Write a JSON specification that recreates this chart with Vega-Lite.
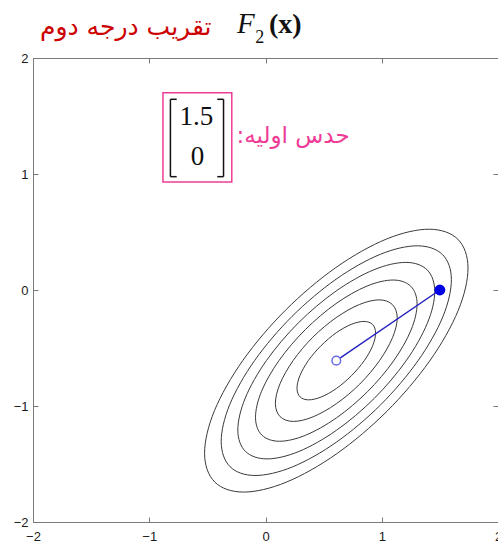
{
  "$schema": "https://vega.github.io/schema/vega-lite/v6.json",
  "width": 465,
  "height": 464,
  "autosize": {"type": "none"},
  "padding": {"left": 33, "top": 58, "right": 0, "bottom": 22},
  "background": "white",
  "config": {
    "view": {"stroke": null},
    "axis": {
      "grid": false,
      "title": null,
      "domainColor": "#7a7a7a",
      "tickColor": "#7a7a7a",
      "tickSize": -5,
      "labelFont": "Liberation Sans",
      "labelFontSize": 13,
      "labelColor": "#1a1a1a",
      "labelFlush": false,
      "labelOverlap": false
    }
  },
  "resolve": {"axis": {"x": "independent", "y": "independent"}},
  "datasets": {
    "contours": [
      {"lv": 1, "i": 1, "x": 0.921, "y": -0.297}, {"lv": 1, "i": 2, "x": 0.947, "y": -0.370},
      {"lv": 1, "i": 3, "x": 0.922, "y": -0.480}, {"lv": 1, "i": 4, "x": 0.849, "y": -0.610},
      {"lv": 1, "i": 5, "x": 0.739, "y": -0.739}, {"lv": 1, "i": 6, "x": 0.610, "y": -0.849},
      {"lv": 1, "i": 7, "x": 0.480, "y": -0.922}, {"lv": 1, "i": 8, "x": 0.370, "y": -0.947},
      {"lv": 1, "i": 9, "x": 0.297, "y": -0.921}, {"lv": 1, "i": 10, "x": 0.271, "y": -0.848},
      {"lv": 1, "i": 11, "x": 0.296, "y": -0.738}, {"lv": 1, "i": 12, "x": 0.369, "y": -0.608},
      {"lv": 1, "i": 13, "x": 0.479, "y": -0.479}, {"lv": 1, "i": 14, "x": 0.608, "y": -0.369},
      {"lv": 1, "i": 15, "x": 0.738, "y": -0.296}, {"lv": 1, "i": 16, "x": 0.848, "y": -0.271},

      {"lv": 2, "i": 1, "x": 1.092, "y": -0.126}, {"lv": 2, "i": 2, "x": 1.133, "y": -0.240},
      {"lv": 2, "i": 3, "x": 1.093, "y": -0.410}, {"lv": 2, "i": 4, "x": 0.980, "y": -0.610},
      {"lv": 2, "i": 5, "x": 0.811, "y": -0.811}, {"lv": 2, "i": 6, "x": 0.610, "y": -0.980},
      {"lv": 2, "i": 7, "x": 0.410, "y": -1.093}, {"lv": 2, "i": 8, "x": 0.240, "y": -1.133},
      {"lv": 2, "i": 9, "x": 0.126, "y": -1.092}, {"lv": 2, "i": 10, "x": 0.085, "y": -0.978},
      {"lv": 2, "i": 11, "x": 0.125, "y": -0.808}, {"lv": 2, "i": 12, "x": 0.238, "y": -0.608},
      {"lv": 2, "i": 13, "x": 0.407, "y": -0.407}, {"lv": 2, "i": 14, "x": 0.608, "y": -0.238},
      {"lv": 2, "i": 15, "x": 0.808, "y": -0.125}, {"lv": 2, "i": 16, "x": 0.978, "y": -0.085},

      {"lv": 3, "i": 1, "x": 1.250, "y": 0.032}, {"lv": 3, "i": 2, "x": 1.304, "y": -0.119},
      {"lv": 3, "i": 3, "x": 1.252, "y": -0.345}, {"lv": 3, "i": 4, "x": 1.102, "y": -0.611},
      {"lv": 3, "i": 5, "x": 0.877, "y": -0.877}, {"lv": 3, "i": 6, "x": 0.611, "y": -1.102},
      {"lv": 3, "i": 7, "x": 0.345, "y": -1.252}, {"lv": 3, "i": 8, "x": 0.119, "y": -1.304},
      {"lv": 3, "i": 9, "x": -0.032, "y": -1.250}, {"lv": 3, "i": 10, "x": -0.086, "y": -1.099},
      {"lv": 3, "i": 11, "x": -0.034, "y": -0.873}, {"lv": 3, "i": 12, "x": 0.117, "y": -0.607},
      {"lv": 3, "i": 13, "x": 0.342, "y": -0.342}, {"lv": 3, "i": 14, "x": 0.607, "y": -0.117},
      {"lv": 3, "i": 15, "x": 0.873, "y": 0.034}, {"lv": 3, "i": 16, "x": 1.099, "y": 0.086},

      {"lv": 4, "i": 1, "x": 1.391, "y": 0.173}, {"lv": 4, "i": 2, "x": 1.456, "y": -0.012},
      {"lv": 4, "i": 3, "x": 1.392, "y": -0.287}, {"lv": 4, "i": 4, "x": 1.209, "y": -0.611},
      {"lv": 4, "i": 5, "x": 0.935, "y": -0.935}, {"lv": 4, "i": 6, "x": 0.611, "y": -1.209},
      {"lv": 4, "i": 7, "x": 0.287, "y": -1.392}, {"lv": 4, "i": 8, "x": 0.012, "y": -1.456},
      {"lv": 4, "i": 9, "x": -0.173, "y": -1.391}, {"lv": 4, "i": 10, "x": -0.238, "y": -1.207},
      {"lv": 4, "i": 11, "x": -0.174, "y": -0.931}, {"lv": 4, "i": 12, "x": 0.009, "y": -0.607},
      {"lv": 4, "i": 13, "x": 0.283, "y": -0.283}, {"lv": 4, "i": 14, "x": 0.607, "y": -0.009},
      {"lv": 4, "i": 15, "x": 0.931, "y": 0.174}, {"lv": 4, "i": 16, "x": 1.207, "y": 0.238},

      {"lv": 5, "i": 1, "x": 1.523, "y": 0.305}, {"lv": 5, "i": 2, "x": 1.599, "y": 0.090},
      {"lv": 5, "i": 3, "x": 1.525, "y": -0.232}, {"lv": 5, "i": 4, "x": 1.311, "y": -0.611},
      {"lv": 5, "i": 5, "x": 0.990, "y": -0.990}, {"lv": 5, "i": 6, "x": 0.611, "y": -1.311},
      {"lv": 5, "i": 7, "x": 0.232, "y": -1.525}, {"lv": 5, "i": 8, "x": -0.090, "y": -1.599},
      {"lv": 5, "i": 9, "x": -0.305, "y": -1.523}, {"lv": 5, "i": 10, "x": -0.381, "y": -1.307},
      {"lv": 5, "i": 11, "x": -0.307, "y": -0.986}, {"lv": 5, "i": 12, "x": -0.093, "y": -0.607},
      {"lv": 5, "i": 13, "x": 0.228, "y": -0.228}, {"lv": 5, "i": 14, "x": 0.607, "y": 0.093},
      {"lv": 5, "i": 15, "x": 0.986, "y": 0.307}, {"lv": 5, "i": 16, "x": 1.307, "y": 0.381},

      {"lv": 6, "i": 1, "x": 1.655, "y": 0.437}, {"lv": 6, "i": 2, "x": 1.742, "y": 0.190},
      {"lv": 6, "i": 3, "x": 1.657, "y": -0.178}, {"lv": 6, "i": 4, "x": 1.412, "y": -0.612},
      {"lv": 6, "i": 5, "x": 1.045, "y": -1.045}, {"lv": 6, "i": 6, "x": 0.612, "y": -1.412},
      {"lv": 6, "i": 7, "x": 0.178, "y": -1.657}, {"lv": 6, "i": 8, "x": -0.190, "y": -1.742},
      {"lv": 6, "i": 9, "x": -0.437, "y": -1.655}, {"lv": 6, "i": 10, "x": -0.524, "y": -1.408},
      {"lv": 6, "i": 11, "x": -0.439, "y": -1.040}, {"lv": 6, "i": 12, "x": -0.194, "y": -0.606},
      {"lv": 6, "i": 13, "x": 0.173, "y": -0.173}, {"lv": 6, "i": 14, "x": 0.606, "y": 0.194},
      {"lv": 6, "i": 15, "x": 1.040, "y": 0.439}, {"lv": 6, "i": 16, "x": 1.408, "y": 0.524}
    ],
    "step": [
      {"k": 0, "x": 1.5, "y": 0},
      {"k": 1, "x": 0.609, "y": -0.609}
    ],
    "bracket": [
      {"x": -0.818, "y": 1.644, "x2": -0.818, "y2": 0.977},
      {"x": -0.818, "y": 1.644, "x2": -0.764, "y2": 1.644},
      {"x": -0.818, "y": 0.977, "x2": -0.764, "y2": 0.977},
      {"x": -0.361, "y": 1.644, "x2": -0.361, "y2": 0.977},
      {"x": -0.361, "y": 1.644, "x2": -0.415, "y2": 1.644},
      {"x": -0.361, "y": 0.977, "x2": -0.415, "y2": 0.977}
    ]
  },
  "layer": [
    {
      "data": {"name": "contours"},
      "mark": {"type": "line", "interpolate": "cardinal-closed", "stroke": "#3a3a3a", "strokeWidth": 1},
      "encoding": {
        "x": {"field": "x", "type": "quantitative", "scale": {"domain": [-2, 2], "nice": false, "zero": false},
              "axis": {"orient": "bottom", "values": [-2, -1, 0, 1, 2], "labelPadding": 13}},
        "y": {"field": "y", "type": "quantitative", "scale": {"domain": [-2, 2], "nice": false, "zero": false},
              "axis": {"orient": "left", "values": [-2, -1, 0, 1, 2], "labelPadding": 10}},
        "detail": {"field": "lv"},
        "order": {"field": "i"}
      }
    },
    {
      "data": {"name": "step"},
      "mark": {"type": "line", "stroke": "#2424c0", "strokeWidth": 1.5},
      "encoding": {
        "x": {"field": "x", "type": "quantitative", "axis": {"orient": "top", "labels": false, "values": [-2, -1, 0, 1, 2]}},
        "y": {"field": "y", "type": "quantitative", "axis": {"orient": "right", "labels": false, "values": [-2, -1, 0, 1, 2]}},
        "order": {"field": "k"}
      }
    },
    {
      "data": {"name": "step"},
      "transform": [{"filter": "datum.k == 0"}],
      "mark": {"type": "point", "filled": true, "fill": "#0000e6", "stroke": "#0000e6", "size": 80, "opacity": 1},
      "encoding": {
        "x": {"field": "x", "type": "quantitative", "axis": null},
        "y": {"field": "y", "type": "quantitative", "axis": null}
      }
    },
    {
      "data": {"name": "step"},
      "transform": [{"filter": "datum.k == 1"}],
      "mark": {"type": "point", "filled": false, "fill": "white", "fillOpacity": 1, "stroke": "#6a6ae6", "strokeWidth": 1.5, "size": 75, "opacity": 1},
      "encoding": {
        "x": {"field": "x", "type": "quantitative", "axis": null},
        "y": {"field": "y", "type": "quantitative", "axis": null}
      }
    },
    {
      "data": {"values": [{}]},
      "mark": {"type": "rect", "fillOpacity": 0, "stroke": "#ee3c96", "strokeWidth": 1.5},
      "encoding": {
        "x": {"datum": -0.882, "type": "quantitative", "axis": null},
        "x2": {"datum": -0.29},
        "y": {"datum": 1.701, "type": "quantitative", "axis": null},
        "y2": {"datum": 0.93}
      }
    },
    {
      "data": {"name": "bracket"},
      "mark": {"type": "rule", "stroke": "#111111", "strokeWidth": 1.5},
      "encoding": {
        "x": {"field": "x", "type": "quantitative", "axis": null},
        "x2": {"field": "x2"},
        "y": {"field": "y", "type": "quantitative", "axis": null},
        "y2": {"field": "y2"}
      }
    },
    {
      "data": {"values": [{"t": "1.5"}]},
      "mark": {"type": "text", "font": "Liberation Serif", "fontSize": 27, "fill": "#111111", "align": "center", "baseline": "middle"},
      "encoding": {
        "x": {"datum": -0.595, "type": "quantitative", "axis": null},
        "y": {"datum": 1.494, "type": "quantitative", "axis": null},
        "text": {"field": "t"}
      }
    },
    {
      "data": {"values": [{"t": "0"}]},
      "mark": {"type": "text", "font": "Liberation Serif", "fontSize": 27, "fill": "#111111", "align": "center", "baseline": "middle"},
      "encoding": {
        "x": {"datum": -0.585, "type": "quantitative", "axis": null},
        "y": {"datum": 1.149, "type": "quantitative", "axis": null},
        "text": {"field": "t"}
      }
    },
    {
      "data": {"values": [{"t": ":حدس اولیه"}]},
      "mark": {"type": "text", "font": "DejaVu Sans", "fontSize": 23, "fill": "#ee3c96", "align": "left", "baseline": "middle"},
      "encoding": {
        "x": {"datum": -0.25, "type": "quantitative", "axis": null},
        "y": {"datum": 1.33, "type": "quantitative", "axis": null},
        "text": {"field": "t"}
      }
    },
    {
      "data": {"values": [{"t": "تقریب درجه دوم"}]},
      "mark": {"type": "text", "font": "DejaVu Sans", "fontSize": 25, "fill": "#cc0000", "align": "left", "baseline": "alphabetic"},
      "encoding": {
        "x": {"datum": -1.94, "type": "quantitative", "axis": null},
        "y": {"datum": 2.2, "type": "quantitative", "axis": null},
        "text": {"field": "t"}
      }
    },
    {
      "data": {"values": [{"t": "F"}]},
      "mark": {"type": "text", "font": "Liberation Serif", "fontStyle": "italic", "fontSize": 29, "fill": "#111111", "align": "left", "baseline": "alphabetic"},
      "encoding": {
        "x": {"datum": -0.245, "type": "quantitative", "axis": null},
        "y": {"datum": 2.216, "type": "quantitative", "axis": null},
        "text": {"field": "t"}
      }
    },
    {
      "data": {"values": [{"t": "2"}]},
      "mark": {"type": "text", "font": "Liberation Serif", "fontSize": 18, "fill": "#111111", "align": "left", "baseline": "alphabetic"},
      "encoding": {
        "x": {"datum": -0.088, "type": "quantitative", "axis": null},
        "y": {"datum": 2.13, "type": "quantitative", "axis": null},
        "text": {"field": "t"}
      }
    },
    {
      "data": {"values": [{"t": "(x)"}]},
      "mark": {"type": "text", "font": "Liberation Serif", "fontWeight": "bold", "fontSize": 28, "fill": "#111111", "align": "left", "baseline": "alphabetic"},
      "encoding": {
        "x": {"datum": 0.03, "type": "quantitative", "axis": null},
        "y": {"datum": 2.216, "type": "quantitative", "axis": null},
        "text": {"field": "t"}
      }
    }
  ]
}
